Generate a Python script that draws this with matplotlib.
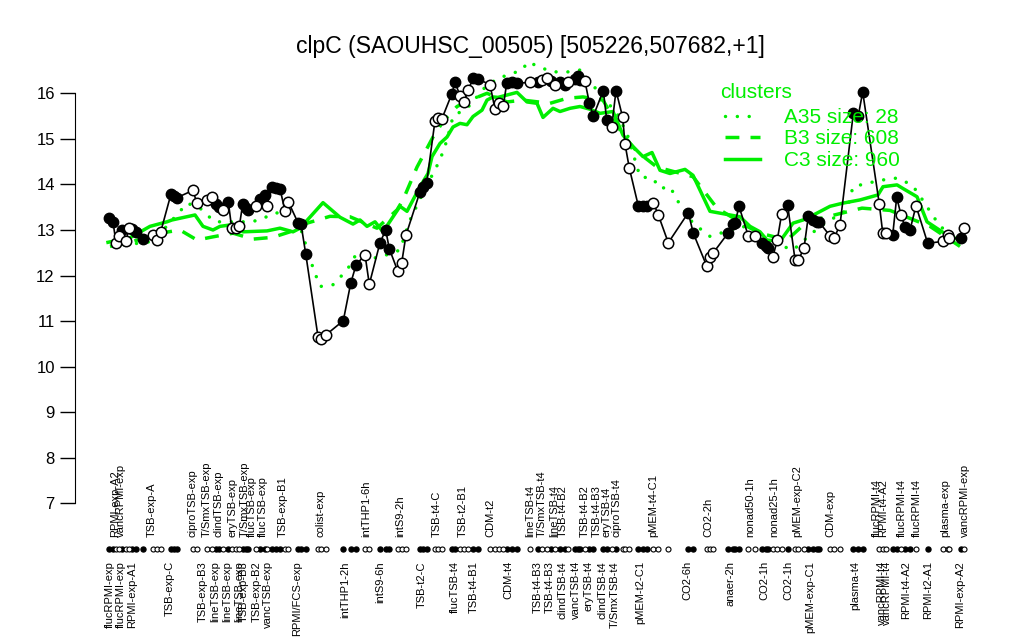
import numpy as np
import matplotlib
matplotlib.use("Agg")
from matplotlib import pyplot as plt
from matplotlib.lines import Line2D

plt.rcParams['font.family'] = ['Liberation Sans', 'DejaVu Sans']

# sample positions along the condition axis, expression values, filled marker flag
pos = [109, 113, 116, 119, 122, 126, 129, 132, 136, 142.7, 152.7, 156.7, 160.7,
       171, 174, 177, 193, 196.7, 206.7, 211.7, 216, 219, 222.7, 228.3, 231.7, 236,
       239.3, 242.7, 245.5, 248.3, 256, 260, 265, 266.7, 271.7, 276, 280, 285, 288.3,
       298, 301, 305.7, 318, 321, 326, 343.3, 350.7, 356, 365, 369.3, 380, 385.7,
       389.3, 397.7, 401.7, 406, 420, 423.3, 426.7, 435, 438.3, 441.7, 451.7, 455,
       460, 464.3, 468.3, 473.3, 478.3, 490, 495, 499.3, 503.3, 506.7, 511.7, 516.7,
       530, 538.3, 541.7, 546.7, 551, 555, 560, 565, 568.3, 575, 578.3, 580, 585,
       589.3, 593.3, 603.3, 606.7, 611.7, 616, 622.7, 625, 629.3, 638.3, 643.3,
       646.7, 653.3, 658.3, 668.3, 688.3, 693.3, 706.7, 710, 713.3, 728.3, 732.7,
       735, 739, 748.3, 755, 761.7, 766, 768.3, 772.7, 777.3, 781.7, 787.7, 795,
       798.3, 804, 808.3, 813.3, 816.7, 819.3, 830, 834, 840, 853.3, 858.3, 862.7,
       879.3, 882.7, 886, 892.7, 896.7, 901, 905, 910, 916, 927.7, 943.3, 947.7,
       949.3, 961, 964.3]
expr = [13.26, 13.18, 12.72, 12.86, 13.00, 12.75, 13.04, 13.03, 12.96, 12.80, 12.89,
        12.78, 12.96, 13.79, 13.75, 13.71, 13.87, 13.60, 13.66, 13.72, 13.57, 13.51,
        13.43, 13.62, 13.04, 13.04, 13.08, 13.57, 13.49, 13.43, 13.53, 13.69, 13.77,
        13.52, 13.94, 13.93, 13.91, 13.41, 13.62, 13.16, 13.13, 12.48, 10.66, 10.61,
        10.70, 11.01, 11.83, 12.23, 12.46, 11.81, 12.72, 13.00, 12.59, 12.10, 12.28,
        12.89, 13.84, 13.95, 14.04, 15.40, 15.45, 15.43, 15.98, 16.24, 15.95, 15.81,
        16.08, 16.33, 16.31, 16.19, 15.65, 15.79, 15.72, 16.22, 16.24, 16.22, 16.24,
        16.24, 16.29, 16.33, 16.26, 16.19, 16.24, 16.19, 16.24, 16.32, 16.37, 16.29,
        16.26, 15.79, 15.50, 16.06, 15.42, 15.26, 16.06, 15.47, 14.89, 14.36, 13.53,
        13.53, 13.52, 13.60, 13.33, 12.72, 13.38, 12.93, 12.21, 12.41, 12.50, 12.94,
        13.13, 13.15, 13.52, 12.87, 12.86, 12.71, 12.64, 12.60, 12.40, 12.78, 13.36,
        13.54, 12.35, 12.34, 12.60, 13.30, 13.23, 13.18, 13.17, 12.87, 12.82, 13.11,
        15.56, 15.51, 16.03, 13.57, 12.94, 12.93, 12.89, 13.72, 13.33, 13.07, 13.00,
        13.53, 12.71, 12.75, 12.89, 12.82, 12.82, 13.04]
filled = "".join(["FFOOFOOFFF", "OOOFFFOOOO", "FFOFOOOFFF", "OFFOFFFOOF", "FFOOOFFFOO",
                  "FFFOOOFFFO", "OOFFOOOFFO", "OOOFFFOFOO", "FOFFOFFFOF", "FFFOFOOOFF",
                  "FOOOFFOOOF", "FFFOOFFFOO", "OFOOOFFFFO", "OOFFFOOOFF", "OFFOFOOOFO"])

# cluster profiles (position, value)
c3_x = [108, 130, 150, 167, 172, 195, 203, 213, 220, 230, 243, 267, 280, 293, 300,
        323, 340, 353, 360, 367, 375, 383, 400, 407, 420, 428, 432, 440, 447, 453,
        460, 467, 473, 482, 487, 493, 498, 517, 527, 537, 543, 553, 560, 570, 580,
        590, 600, 613, 623, 633, 643, 652, 660, 670, 685, 693, 710, 740, 750, 760,
        767, 780, 793, 803, 810, 830, 843, 860, 878, 883, 897, 903, 917, 927, 947, 963]
c3_y = [12.73, 12.83, 13.08, 13.18, 13.22, 13.33, 13.08, 13.0, 13.08, 13.11, 12.96, 12.98,
        13.04, 12.96, 13.04, 13.6, 13.28, 13.13, 13.22, 13.08, 13.18, 12.96, 13.52, 13.41,
        13.95, 14.24, 14.61, 14.9, 15.04, 15.26, 15.34, 15.31, 15.49, 15.63, 15.85, 15.92,
        15.91, 16.02, 15.81, 15.78, 15.47, 15.67, 15.6, 15.67, 15.71, 15.65, 15.56, 15.6,
        15.08, 14.83, 14.61, 14.7, 14.31, 14.24, 14.33, 14.2, 13.41, 13.29, 13.08, 12.96,
        12.78, 12.75, 13.15, 13.22, 13.29, 13.52, 13.59, 13.66, 13.77, 13.95, 13.99, 13.91,
        13.73, 13.18, 12.89, 12.75]
b3_x = [110, 133, 160, 180, 197, 213, 233, 253, 273, 290, 307, 330, 350, 377, 397, 403,
        417, 433, 443, 457, 470, 487, 507, 523, 550, 567, 583, 603, 623, 637, 657, 693,
        717, 747, 760, 787, 807, 862, 890, 930, 960]
b3_y = [12.64, 12.75, 12.93, 13.0, 12.78, 12.85, 12.93, 12.8, 12.84, 12.96, 13.15,
        13.3, 13.29, 13.04, 13.44, 13.66, 14.38, 15.04, 15.38, 15.71, 15.85, 16.0, 15.81,
        15.85, 15.78, 15.89, 15.92, 15.85, 15.08, 14.72, 14.38, 14.17, 13.48, 13.08, 12.93,
        12.78, 13.18, 13.48, 13.43, 13.08, 12.64]
a35_x = [113, 153, 180, 187, 200, 207, 215, 233, 250, 260, 273, 287, 300, 313, 320, 333,
         347, 357, 377, 400, 410, 423, 440, 447, 453, 463, 473, 480, 497, 522, 528, 537,
         552, 568, 580, 587, 607, 617, 627, 640, 653, 660, 670, 680, 693, 710, 743, 770,
         793, 820, 847, 853, 880, 897, 912, 918, 940, 960]
a35_y = [12.64, 12.75, 13.41, 13.59, 13.48, 13.33, 13.18, 13.18, 13.18, 13.22, 13.36, 13.41,
         13.08, 12.17, 11.76, 11.8, 12.12, 12.5, 12.38, 12.56, 13.22, 13.81, 14.54, 14.97,
         15.49, 15.63, 15.78, 16.04, 16.32, 16.51, 16.69, 16.6, 16.47, 16.47, 16.51, 16.33,
         15.81, 15.56, 15.12, 14.17, 14.13, 13.91, 13.95, 13.55, 13.15, 12.86, 13.08, 12.75,
         12.56, 13.08, 13.44, 13.95, 14.09, 14.14, 13.99, 13.81, 13.08, 12.78]

# condition labels above and below the sample row
top_x = [115, 121, 152, 192, 207, 218, 232, 245, 252, 263, 283, 320, 366, 400, 437, 463,
         490, 530, 542, 554, 563, 585, 597, 607, 617, 653, 708, 750, 774, 797, 830, 877,
         883, 902, 917, 945, 965]
top_lab = ["RPMI-exp-A2", "vancRPMI-exp", "TSB-exp-A", "ciproTSB-exp", "T/SmxTSB-exp",
           "clindTSB-exp", "eryTSB-exp", "T/SmxTSB-exp", "flucTSB-exp", "flucTSB-exp",
           "TSB-exp-B1", "colist-exp", "intTHP1-6h", "intS9-2h", "TSB-t4-C", "TSB-t2-B1",
           "CDM-t2", "lineTSB-t4", "T/SmxTSB-t4", "lineTSB-t4", "TSB-t4-B2", "TSB-t4-B2",
           "TSB-t4-B3", "eryTSB-t4", "ciproTSB-t4", "pMEM-t4-C1", "CO2-2h", "nonad50-1h",
           "nonad25-1h", "pMEM-exp-C2", "CDM-exp", "flucRPMI-t4", "RPMI-t4-A2",
           "flucRPMI-t4", "flucRPMI-t4", "plasma-exp", "vancRPMI-exp"]
bot_x = [110, 121, 132, 170, 203, 215, 227, 239, 244, 257, 268, 297, 345, 380, 422, 455,
         474, 508, 538, 550, 562, 576, 588, 603, 615, 640, 687, 730, 764, 788, 810, 855,
         882, 887, 906, 928, 960]
bot_lab = ["flucRPMI-exp", "flucRPMI-exp", "RPMI-exp-A1", "TSB-exp-C", "TSB-exp-B3",
           "lineTSB-exp", "lineTSB-exp", "lineTSB-exp", "TSB-exp-B3", "TSB-exp-B2",
           "vancTSB-exp", "RPMI/FCS-exp", "intTHP1-2h", "intS9-6h", "TSB-t2-C",
           "flucTSB-t4", "TSB-t4-B1", "CDM-t4", "TSB-t4-B3", "TSB-t4-B3", "clindTSB-t4",
           "vancTSB-t4", "eryTSB-t4", "clindTSB-t4", "T/SmxTSB-t4", "pMEM-t2-C1",
           "CO2-6h", "anaer-2h", "CO2-1h", "CO2-1h", "pMEM-exp-C1", "plasma-t4",
           "vancRPMI-t4", "vancRPMI-t4", "RPMI-t4-A2", "RPMI-t2-A1", "RPMI-exp-A2"]

green = "#00ee00"
dots = (0, (0.01, 3.4))
dashes = (0, (4.0, 3.2))

def val(p):
    # pixel row -> value, to line the frame up with the reference
    return 13 + (230 - p) / 45.57

fig = plt.figure(figsize=(10.24, 6.4), dpi=100)
ax = fig.add_axes([75 / 1024, 120 / 640, 925 / 1024, 465 / 640])
ax.set_xlim(75, 1000)
ax.set_ylim(val(520), val(55))

ax.plot(a35_x, a35_y, color=green, lw=2.5, ls=dots, dash_capstyle="round", zorder=2)
ax.plot(b3_x, b3_y, color=green, lw=2.5, ls=dashes, zorder=2)
ax.plot(c3_x, c3_y, color=green, lw=2.5, zorder=2)

pos = np.array(pos)
expr = np.array(expr)
isf = np.array([c == "F" for c in filled])
ax.plot(pos, expr, color="black", lw=1.2, zorder=3)
ax.plot(pos[isf], expr[isf], "o", ms=7.5, mfc="black", mec="black", zorder=4)
ax.plot(pos[~isf], expr[~isf], "o", ms=7.5, mfc="white", mec="black", mew=1.1, zorder=4)

# sample row under the plot
row_y = val(549)
ax.plot(pos[isf], np.full(isf.sum(), row_y), "o", ms=3.6, mfc="black", mec="black", clip_on=False)
ax.plot(pos[~isf], np.full((~isf).sum(), row_y), "o", ms=3.6, mfc="white", mec="black",
        mew=0.8, clip_on=False)
for x, t in zip(top_x, top_lab):
    ax.text(x, val(537), t, rotation=90, ha="center", va="bottom", fontsize=8)
for x, t in zip(bot_x, bot_lab):
    ax.text(x, val(561), t, rotation=90, ha="center", va="top", fontsize=8)

ax.set_yticks(range(7, 17))
ax.set_xticks([])
ax.tick_params(axis="y", length=10.5, width=1, labelsize=12, pad=4)
for name, s in ax.spines.items():
    s.set_visible(name == "left")
ax.spines["left"].set_bounds(7, 16)

fig.text(530 / 1024, 1 - 47 / 640, "clpC (SAOUHSC_00505) [505226,507682,+1]",
         fontsize=16.6, ha="center", va="center")

handles = [Line2D([], [], color=green, lw=2.5, ls=dots, dash_capstyle="round"),
           Line2D([], [], color=green, lw=2.5, ls=dashes),
           Line2D([], [], color=green, lw=2.5)]
leg = ax.legend(handles, ["A35 size: 28", "B3 size: 608", "C3 size: 960"],
                loc="upper left", bbox_to_anchor=(725 / 1024, 1 - 108 / 640),
                bbox_transform=fig.transFigure, frameon=False, fontsize=15,
                labelcolor=green, handlelength=1.7, handletextpad=1.15,
                labelspacing=0.12, borderpad=0, borderaxespad=0)
fig.text(720 / 1024, 1 - 92 / 640, "clusters", color=green, fontsize=15,
         ha="left", va="center")

fig.savefig("out.png", dpi=100)
